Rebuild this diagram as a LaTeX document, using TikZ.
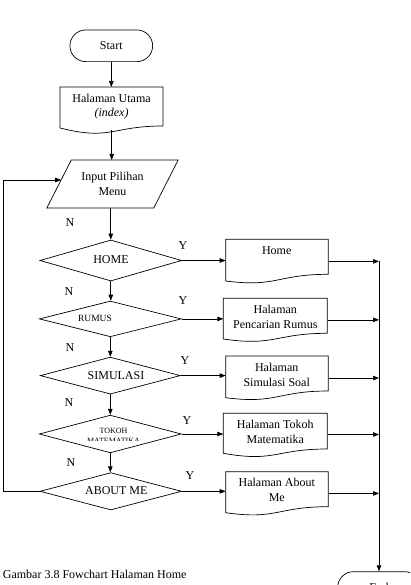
\documentclass[tikz,border=0pt]{standalone}
\usepackage{fontspec}
\setmainfont{Liberation Serif}
\usetikzlibrary{shapes.geometric,arrows.meta}
\tikzset{
  ln/.style={line width=0.7pt, draw=black},
  arr/.style={ln, -{Triangle[length=6pt,width=4.5pt]}},
  txt/.style={font=\fontsize{12}{14.5}\selectfont, align=center, inner sep=0pt},
  smalltxt/.style={font=\fontsize{9.5}{11}\selectfont, align=center, inner sep=0pt},
  tinytxt/.style={font=\fontsize{8}{10}\selectfont, inner sep=0pt},
  dia/.style={diamond, ln, inner sep=0pt},
  term/.style={rectangle, rounded corners=15.8pt, ln, minimum width=82.7pt, minimum height=31.7pt, inner sep=0pt, font=\fontsize{12}{14.5}\selectfont},
  hid/.style={rectangle, inner sep=0pt, draw=none}
}
\newcommand{\docbox}[6]{%
  \node[hid, anchor=north west, minimum width={(#3-#2)*1pt}, minimum height={(#5+2-#4)*1pt}] (#1) at (#2,#4) {};
  \draw[ln] (#2,#4) -- (#3,#4) -- (#3,#6) .. controls ({(#2+#3)/2},#6) and ({(#2+#3)/2},{#4+1.38*(#6-#4)}) .. (#2,#5) -- cycle;
}
\begin{document}
\begin{tikzpicture}[x=1pt,y=-1pt]
\useasboundingbox (0,0) rectangle (410,585);
\clip (0,0) rectangle (410,585);

% start
\node[term] (start) at (111.3,45.8) {Start};

% halaman utama
\docbox{hu}{60}{163}{87}{128}{126}
\node[txt] (hu-t) at (111.5,106.5) {Halaman Utama\\\textit{(index)}};

% input parallelogram
\node[hid, txt, minimum width=106.5pt, minimum height=47.7pt] (inp) at (112.5,184) {Input Pilihan\\Menu};
\draw[ln] ([xshift=12.25pt]inp.north west) -- ([xshift=12.25pt]inp.north east) -- ([xshift=-12.25pt]inp.south east) -- ([xshift=-12.25pt]inp.south west) -- cycle;
\coordinate (inpL) at (61.2,180);

% decisions
\node[dia, minimum width=141.7pt, minimum height=41pt] (d1) at (110.8,260.5) {};
\node[dia, minimum width=142pt, minimum height=35.7pt] (d2) at (110.3,318.9) {};
\node[dia, minimum width=140pt, minimum height=37pt] (d3) at (110.3,375.6) {};
\node[dia, minimum width=142pt, minimum height=37.7pt] (d4) at (110.3,434) {};
\node[dia, minimum width=141.7pt, minimum height=37.3pt] (d5) at (110.8,491.3) {};

\node[txt] (d1-t) at (111,260) {HOME};
\node[smalltxt] (d2-t) at (95,318.7) {RUMUS};
\node[txt] (d3-t) at (116,375.7) {SIMULASI};
\begin{scope}
  \clip (60,420) rectangle (170,440.7);
  \node[tinytxt, anchor=base] (d4-t) at (113.5,433.3) {TOKOH};
  \node[tinytxt, anchor=base] (d4-u) at (113.5,443.3) {MATEMATIKA};
\end{scope}
\node[txt] (d5-t) at (116.3,490.5) {ABOUT ME};

% pages
\docbox{hm}{225.7}{328.3}{239.3}{281}{274.3}
\node[txt] (hm-t) at (276.7,250.7) {Home};
\docbox{hr}{223.3}{327.3}{298.3}{339}{333.3}
\node[txt] (hr-t) at (275.3,316.7) {Halaman\\Pencarian Rumus};
\docbox{hs}{225.7}{328.3}{356}{397.7}{391}
\node[txt] (hs-t) at (276.7,374.8) {Halaman\\Simulasi Soal};
\docbox{ht}{223.3}{327.3}{413.3}{453.3}{449}
\node[txt] (ht-t) at (275.3,432) {Halaman Tokoh\\Matematika};
\docbox{ha}{225.7}{328.3}{471.7}{512.7}{506.7}
\node[txt] (ha-t) at (276.8,490) {Halaman About\\Me};

% end
\node[term] (endn) at (379,587.5) {End};
\coordinate (bus) at (379,0);
\coordinate (lp) at (3,0);

% N / Y labels
\node[txt] (n1) at (70,223) {N};
\node[txt] (n2) at (69,291.7) {N};
\node[txt] (n3) at (70,347.7) {N};
\node[txt] (n4) at (69,402.7) {N};
\node[txt] (n5) at (71,463) {N};
\node[txt] (y1) at (183,245.7) {Y};
\node[txt] (y2) at (183,301) {Y};
\node[txt] (y3) at (185,360.7) {Y};
\node[txt] (y4) at (187,420.7) {Y};
\node[txt] (y5) at (190,476) {Y};

% caption
\node[txt, anchor=west] (cap) at (2.7,574) {Gambar 3.8 Fowchart Halaman Home};

% connectors
\draw[arr] (start.south) -- (start.south |- hu.north);
\draw[arr] (hu.south) -- (hu.south |- inp.north);
\draw[arr] (d1.north |- inp.south) -- (d1.north);
\draw[arr] (d1.south) -- (d1.south |- d2.north);
\draw[arr] (d2.south) -- (d2.south |- d3.north);
\draw[arr] (d3.south) -- (d3.south |- d4.north);
\draw[arr] (d4.south) -- (d4.south |- d5.north);

\draw[arr] (d1.east) -- (d1.east -| hm.west);
\draw[arr] (d2.east) -- (d2.east -| hr.west);
\draw[arr] (d3.east) -- (d3.east -| hs.west);
\draw[arr] (d4.east) -- (d4.east -| ht.west);
\draw[arr] (d5.east) -- (d5.east -| ha.west);

\draw[arr] (hm.east) -- (hm.east -| bus);
\draw[arr] (hr.east) -- (hr.east -| bus);
\draw[arr] (hs.east) -- (hs.east -| bus);
\draw[arr] (ht.east) -- (ht.east -| bus);
\draw[arr] (ha.east) -- (ha.east -| bus);
\draw[arr] (hm.east -| bus) -- (bus |- endn.north);

\draw[arr] (d5.west) -- (d5.west -| lp) -- (lp |- inpL) -- (inpL);
\end{tikzpicture}
\end{document}
